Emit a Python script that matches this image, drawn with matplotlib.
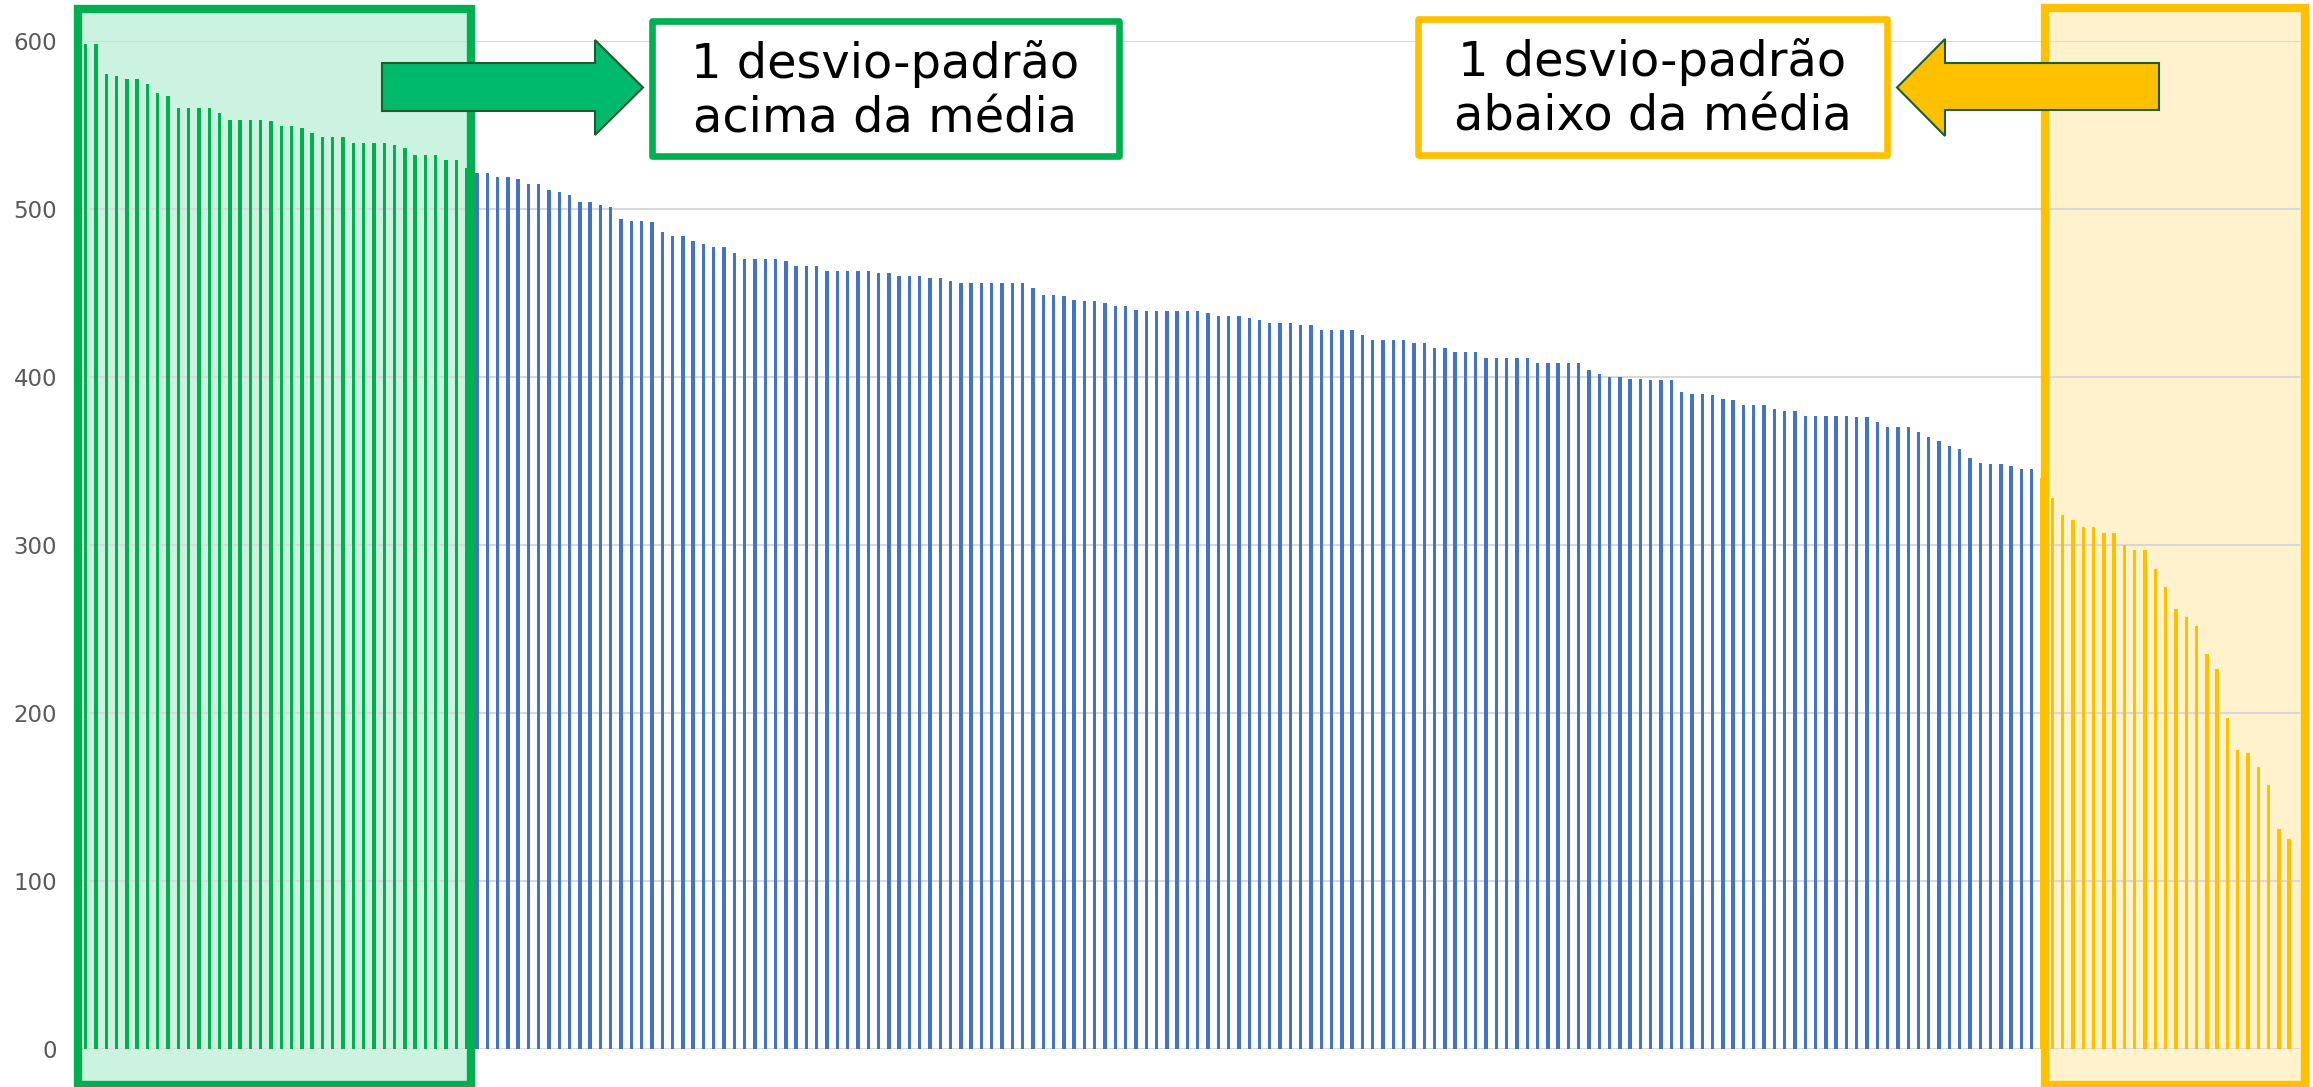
import matplotlib.pyplot as plt
import matplotlib.patches as mpatches
import numpy as np

# values sorted from highest to lowest
green_vals = [598, 598, 580, 579, 577, 577, 574, 569, 567, 560, 560, 560, 560, 557,
              553, 553, 553, 553, 552, 549, 549, 548, 545, 543, 543, 543, 539, 539,
              539, 539, 538, 536, 532, 532, 532, 529, 529, 524]
blue_vals = [521, 521, 519, 519, 518, 515, 515, 511, 510, 508, 504, 504, 502, 501,
             494, 493, 493, 492, 486, 484, 484, 481, 479, 477, 477, 474, 470, 470,
             470, 470, 469, 466, 466, 466, 463, 463, 463, 463, 463, 462, 462, 460,
             460, 460, 459, 459,
             457, 456, 456, 456, 456, 456, 456, 456, 453, 449, 449, 448, 446, 445,
             445, 444, 442, 442, 440, 439, 439, 439, 439, 439, 439, 438, 436, 436,
             436, 435, 434, 432, 432, 432, 431, 431, 428, 428, 428, 428, 425, 422,
             422, 422,
             422, 420, 420, 417, 417, 415, 415, 415, 411, 411, 411, 411, 411, 408,
             408, 408, 408, 408, 404, 402, 400, 400, 399, 399, 398, 398, 398, 391,
             390, 390, 389, 387, 386, 383, 383, 383, 381, 380, 380, 377, 377, 377,
             377, 377, 376, 376, 373, 370, 370, 370, 367, 364, 362, 359, 357, 352,
             349, 348, 348, 347, 345, 345]
yellow_vals = [340, 328, 318, 315, 311, 311, 307, 307, 300, 297, 297, 286, 275, 262,
               257, 252, 235, 226, 197, 178, 176, 168, 157, 131, 125]
y_ticks = [0, 100, 200, 300, 400, 500, 600]

label_above = '1 desvio-padrão\nacima da média'
label_below = '1 desvio-padrão\nabaixo da média'

W, H = 2313, 1087

fig = plt.figure(figsize=(W / 100, H / 100), dpi=100)
ax = fig.add_axes([80.5 / W, 37.7 / H, (2300 - 80.5) / W, (1049.3 - 40.7) / H])

n_g, n_b, n_y = len(green_vals), len(blue_vals), len(yellow_vals)
idx_g = np.arange(n_g)
idx_b = np.arange(n_g, n_g + n_b)
idx_y = np.arange(n_g + n_b, n_g + n_b + n_y)

bw = 0.33
ax.bar(idx_g, green_vals, bw, color='#00B050', zorder=2)
ax.bar(idx_b, blue_vals, bw, color='#4472C4', zorder=2)
ax.bar(idx_y, yellow_vals, bw, color='#FFC000', zorder=2)

ax.set_xlim(-0.5, n_g + n_b + n_y + 0.05)
ax.set_ylim(0, 600)
ax.set_yticks(y_ticks)
ax.set_xticks([])
ax.tick_params(axis='y', length=0, pad=17, labelsize=16.5, labelcolor='#595959')
for s in ax.spines.values():
    s.set_visible(False)
ax.set_axisbelow(True)
ax.yaxis.grid(True, color='#D9D9D9', linewidth=1.5)


def rect_px(x0, y0, x1, y1, **kw):
    # rectangle given in pixel coords (origin top-left)
    r = mpatches.Rectangle((x0 / W, 1 - y1 / H), (x1 - x0) / W, (y1 - y0) / H,
                           transform=fig.transFigure, clip_on=False, **kw)
    ax.add_patch(r)
    return r


def poly_px(pts, **kw):
    p = mpatches.Polygon([(x / W, 1 - y / H) for x, y in pts], closed=True,
                         transform=fig.transFigure, clip_on=False, **kw)
    ax.add_patch(p)
    return p


# highlighted regions
rect_px(77.5, 9, 471, 1085, facecolor='#CCF2E0', edgecolor='none', zorder=0.1)
rect_px(77.5, 9, 471, 1085, facecolor='none', edgecolor='#00B050', linewidth=6, zorder=4)
rect_px(2044.5, 8, 2305, 1085, facecolor='#FFF2CC', edgecolor='none', zorder=0.1)
rect_px(2044.5, 8, 2305, 1085, facecolor='none', edgecolor='#FFC000', linewidth=6, zorder=4)

# label boxes
rect_px(652, 20.5, 1119, 156, facecolor='white', edgecolor='#00B050', linewidth=4.8,
        joinstyle='round', zorder=5)
rect_px(1418, 18.5, 1887, 155, facecolor='white', edgecolor='#FFC000', linewidth=4.8,
        joinstyle='round', zorder=5)

# arrows
poly_px([(382, 63), (595, 63), (595, 40), (643, 87.5), (595, 135), (595, 111), (382, 111)],
        facecolor='#00BA6B', edgecolor='#1E5C30', linewidth=1.5, zorder=5)
poly_px([(2159, 63), (1945, 63), (1945, 39), (1897, 87.5), (1945, 136), (1945, 110), (2159, 110)],
        facecolor='#FFC000', edgecolor='#1E5C30', linewidth=1.5, zorder=5)

fig.text(885.5 / W, 1 - 91 / H, label_above, ha='center', va='center', fontsize=34.5,
         linespacing=1.2, color='black', zorder=6)
fig.text(1652.5 / W, 1 - 89.5 / H, label_below, ha='center', va='center', fontsize=34.5,
         linespacing=1.2, color='black', zorder=6)

plt.savefig('out.png', dpi=100)
